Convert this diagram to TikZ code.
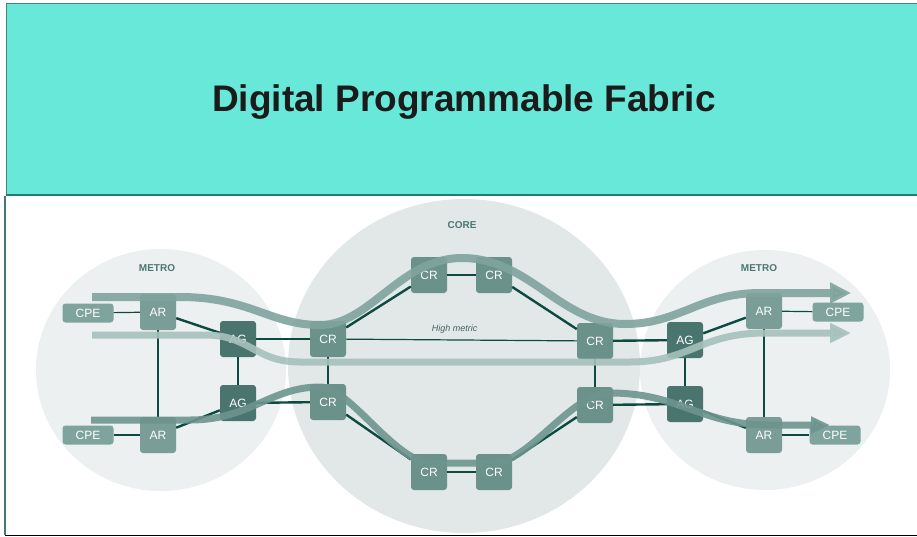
\documentclass[tikz,border=0pt]{standalone}
\usepackage{fontspec}
\setmainfont{Liberation Sans}
\usetikzlibrary{arrows.meta}
\definecolor{headfill}{HTML}{68E8D8}
\definecolor{headline}{HTML}{4A827D}
\definecolor{headbase}{HTML}{1F7D70}
\definecolor{frameline}{HTML}{467876}
\definecolor{baseline}{HTML}{C3D4D2}
\definecolor{titlecol}{HTML}{1B1B1B}
\definecolor{metrofill}{HTML}{ECF0F0}
\definecolor{corefill}{HTML}{E1E8E7}
\definecolor{areatext}{HTML}{4D7772}
\definecolor{crfill}{HTML}{6B918B}
\definecolor{arfill}{HTML}{7A9D97}
\definecolor{agfill}{HTML}{4A756F}
\definecolor{cpefill}{HTML}{7FA39D}
\definecolor{linkcol}{HTML}{0D4A41}
\definecolor{tubeone}{HTML}{7FA39D}
\definecolor{tubetwo}{HTML}{A7C1BC}
\definecolor{tubethree}{HTML}{6D948E}
\begin{document}
\begin{tikzpicture}[x=1pt,y=1pt]
    \tikzstyle{every node}+=[inner sep=0pt,font=\fontsize{12}{13}\selectfont]
    \tikzstyle{box}=[rectangle,rounded corners=3pt,minimum width=36pt,minimum height=36pt,text=white]
    \tikzstyle{cr}=[box,fill=crfill]
    \tikzstyle{ar}=[box,fill=arfill]
    \tikzstyle{ag}=[box,fill=agfill]
    \tikzstyle{cpe}=[box,fill=cpefill,minimum width=51pt,minimum height=19pt]
    \tikzstyle{link}=[draw=linkcol,line width=2.4pt]
    \tikzstyle{thinlink}=[draw=linkcol,line width=1.2pt]
    \tikzstyle{tube}=[line cap=butt,opacity=0.9]
    \tikzstyle{area}=[font=\fontsize{10}{12}\selectfont\bfseries,text=areatext]
    \useasboundingbox (0,0) rectangle (917,-536);
    \fill [headfill] (6,-3) rectangle (917,-194);
    \draw [headline,line width=1pt] (6,-194) -- (6,-3.5) -- (917,-3.5);
    \draw [headbase,line width=2pt] (6,-194.5) -- (917,-194.5);
    \draw [frameline,line width=1.5pt] (5,-196) -- (5,-535);
    \draw [baseline,line width=1pt] (5,-535) -- (917,-535);
    \node [font=\fontsize{37}{40}\selectfont\bfseries,text=titlecol] (title) at (464,-102) {Digital Programmable Fabric};
    \fill [metrofill] (161,-370) ellipse [x radius=125pt,y radius=121pt];
    \fill [metrofill] (765,-370) ellipse [x radius=125pt,y radius=120pt];
    \fill [corefill] (464,-366) ellipse [x radius=176pt,y radius=167pt];
    \node [area] (metroleft) at (157,-268) {METRO};
    \node [area] (core) at (462,-225) {CORE};
    \node [area] (metroright) at (759,-268) {METRO};
    \node [cpe] (cpel1) at (88,-313) {CPE};
    \node [cpe] (cpel2) at (88,-435) {CPE};
    \node [ar] (arl1) at (158,-312) {AR};
    \node [ar] (arl2) at (158,-435) {AR};
    \node [ag] (agl1) at (238,-339) {AG};
    \node [ag] (agl2) at (238,-403) {AG};
    \node [cr] (crlt) at (328,-339) {CR};
    \node [cr] (crlb) at (328,-402) {CR};
    \node [cr] (crt1) at (429,-275) {CR};
    \node [cr] (crt2) at (494,-275) {CR};
    \node [cr] (crb1) at (429,-472) {CR};
    \node [cr] (crb2) at (494,-472) {CR};
    \node [cr] (crrt) at (595,-341) {CR};
    \node [cr] (crrb) at (595,-405) {CR};
    \node [ag] (agr1) at (685,-340) {AG};
    \node [ag] (agr2) at (685,-404) {AG};
    \node [ar] (arr1) at (764,-311) {AR};
    \node [ar] (arr2) at (764,-435) {AR};
    \node [cpe] (cper1) at (838,-312) {CPE};
    \node [cpe] (cper2) at (835,-435) {CPE};
    \draw [thinlink] (cpel1) -- (arl1);
    \draw [thinlink] (cpel2) -- (arl2);
    \draw [link] (arl1) -- (arl2);
    \draw [link] (arl1) -- (agl1);
    \draw [link] (arl2) -- (agl2);
    \draw [link] (agl1) -- (agl2);
    \draw [link] (agl1) -- (crlt);
    \draw [link] (agl2) -- (crlb);
    \draw [link] (crlt) -- (crt1);
    \draw [link] (crt1) -- (crt2);
    \draw [link] (crt2) -- (crrt);
    \draw [thinlink] (crlt) -- node [pos=0.47,above=6pt,font=\fontsize{9}{10}\selectfont\itshape,text=areatext!85!black] {High metric} (crrt);
    \draw [link] (crlt) -- (crlb);
    \draw [link] (crrt) -- (crrb);
    \draw [link] (crlb) -- (crb1);
    \draw [link] (crb1) -- (crb2);
    \draw [link] (crb2) -- (crrb);
    \draw [link] (crrt) -- (agr1);
    \draw [link] (crrb) -- (agr2);
    \draw [link] (agr1) -- (agr2);
    \draw [link] (agr1) -- (arr1);
    \draw [link] (agr2) -- (arr2);
    \draw [link] (arr1) -- (arr2);
    \draw [thinlink] (arr1) -- (cper1);
    \draw [thinlink] (arr2) -- (cper2);
    \coordinate (topin) at (92,-297);
    \coordinate (topout) at (851,-293);
    \coordinate (midin) at (92,-335);
    \coordinate (midout) at (851,-333);
    \coordinate (botin) at (91,-420);
    \coordinate (botout) at (830,-425);
    \draw [tube,draw=tubeone,line width=8pt,-{Triangle[width=20pt,length=21pt]}] (topin) -- (180,-297) .. controls (250,-297) and (270,-325) .. (320,-325) .. controls (370,-325) and (400,-258) .. (462,-258) .. controls (530,-258) and (560,-324) .. (625,-324) .. controls (680,-324) and (700,-293) .. (760,-293) -- (topout);
    \draw [tube,draw=tubetwo,line width=7pt,-{Triangle[width=19pt,length=21pt]}] (midin) -- (205,-335) .. controls (250,-335) and (255,-362) .. (300,-362) -- (630,-362) .. controls (690,-362) and (700,-333) .. (765,-333) -- (midout);
    \draw [tube,draw=tubethree,line width=7pt,-{Triangle[width=16pt,length=19pt]}] (botin) -- (190,-420) .. controls (250,-420) and (270,-387) .. (320,-387) .. controls (350,-387) and (395,-463) .. (432,-463) -- (492,-463) .. controls (530,-463) and (570,-393) .. (610,-393) .. controls (680,-393) and (700,-425) .. (770,-425) -- (botout);
\end{tikzpicture}
\end{document}
